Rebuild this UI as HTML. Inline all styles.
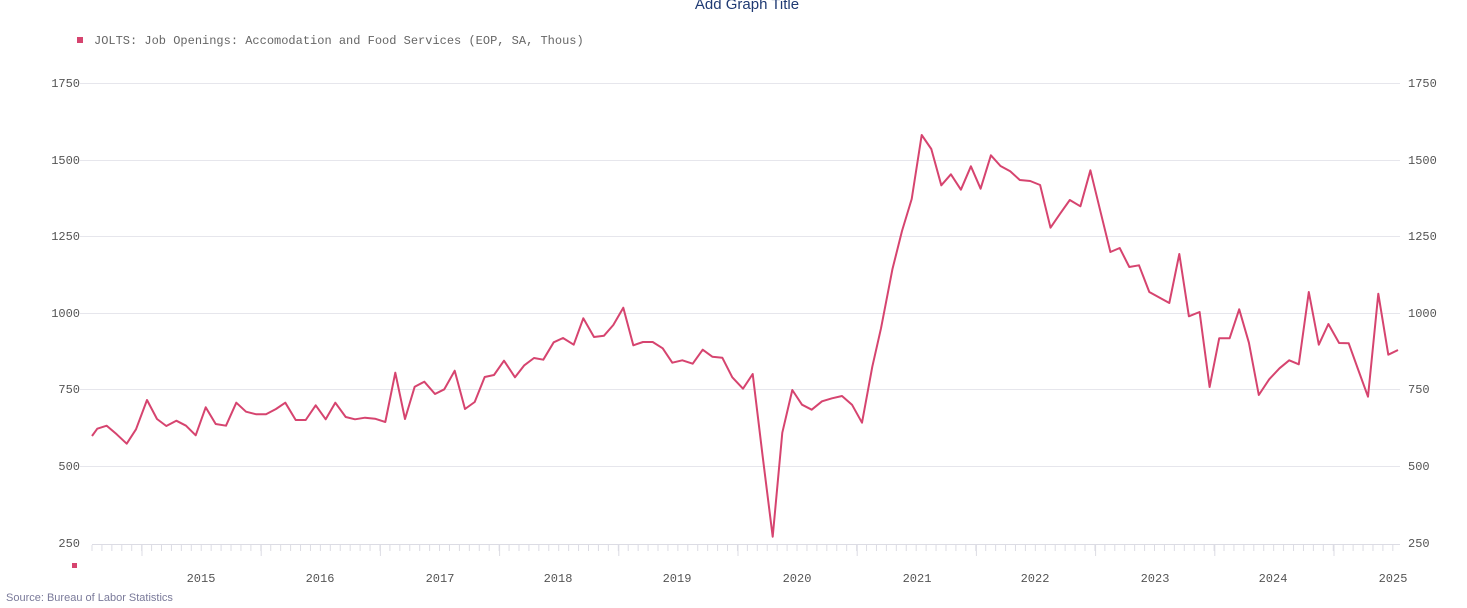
<!DOCTYPE html>
<html><head><meta charset="utf-8"><style>
html,body{margin:0;padding:0;background:#fff;}
svg{display:block;}
</style></head><body>
<svg width="1467" height="608" xmlns="http://www.w3.org/2000/svg">
<defs>
<pattern id="minor" patternUnits="userSpaceOnUse" x="91.5" y="545" width="9.93" height="6"><rect x="0" y="0" width="1" height="6" fill="#dcdce4"/></pattern>
<pattern id="major" patternUnits="userSpaceOnUse" x="141.5" y="545" width="119.2" height="11"><rect x="0" y="0" width="1" height="11" fill="#dcdce4"/></pattern>
</defs>
<text x="747" y="9" text-anchor="middle" font-family="Liberation Sans, sans-serif" font-size="15" fill="#1f3a73">Add Graph Title</text>
<rect x="77" y="37" width="6" height="6" fill="#d6446f"/>
<text x="94" y="44" font-family="Liberation Mono, monospace" font-size="12" fill="#666">JOLTS: Job Openings: Accomodation and Food Services (EOP, SA, Thous)</text>
<g stroke="#e6e6ec" stroke-width="1">
<line x1="80" y1="83.5" x2="1400" y2="83.5"/>
<line x1="80" y1="160.5" x2="1400" y2="160.5"/>
<line x1="80" y1="236.5" x2="1400" y2="236.5"/>
<line x1="80" y1="313.5" x2="1400" y2="313.5"/>
<line x1="80" y1="389.5" x2="1400" y2="389.5"/>
<line x1="80" y1="466.5" x2="1400" y2="466.5"/>
</g>
<g font-family="Liberation Mono, monospace" font-size="12" fill="#555" text-anchor="end">
<text x="80" y="87">1750</text><text x="80" y="164">1500</text><text x="80" y="240">1250</text>
<text x="80" y="317">1000</text><text x="80" y="393">750</text><text x="80" y="470">500</text><text x="80" y="547">250</text>
</g>
<g font-family="Liberation Mono, monospace" font-size="12" fill="#555">
<text x="1408" y="87">1750</text><text x="1408" y="164">1500</text><text x="1408" y="240">1250</text>
<text x="1408" y="317">1000</text><text x="1408" y="393">750</text><text x="1408" y="470">500</text><text x="1408" y="547">250</text>
</g>
<line x1="92" y1="544.5" x2="1400" y2="544.5" stroke="#dcdce4"/>
<rect x="91.5" y="545" width="1309" height="6" fill="url(#minor)"/>
<rect x="141.5" y="545" width="1259" height="11" fill="url(#major)"/>
<g font-family="Liberation Mono, monospace" font-size="12" fill="#555" text-anchor="middle">
<text x="201" y="582">2015</text><text x="320" y="582">2016</text><text x="440" y="582">2017</text>
<text x="558" y="582">2018</text><text x="677" y="582">2019</text><text x="797" y="582">2020</text>
<text x="917" y="582">2021</text><text x="1035" y="582">2022</text><text x="1155" y="582">2023</text>
<text x="1273" y="582">2024</text><text x="1393" y="582">2025</text>
</g>
<rect x="72" y="563" width="5" height="5" fill="#d6446f"/>
<text x="6" y="601" font-family="Liberation Sans, sans-serif" font-size="11" fill="#7a7a9a">Source: Bureau of Labor Statistics</text>
<polyline fill="none" stroke="#d6446f" stroke-width="2" stroke-linejoin="round" points="
92,436 97.3,428.7 106.7,425.7 116.7,434.3 126.7,443.7 136,429.3 147,400 157,419 166.3,426 176.3,420.7 186,425.7 195.7,435.3 205.7,407.3 215.7,424 226,425.7 236.3,402.7 246,411.7 256.3,414.3 266,414.3 276,409 285.3,402.7 295.7,420 305.7,420 315.7,405.3 325.7,419.3 335.3,402.7 345.7,417 355,419.3 365,417.7 375,418.7 385.3,422 395.3,372.7 405,419 414.7,386.7 424.3,381.7 435,394 444.3,389.3 454.7,370.7 465,409 474.7,402 484.7,377 494,375 504,360.7 515,377.3 524.3,365.3 534,358 543.3,359.7 553.7,342.3 563,338 573.7,344.7 583.3,318.3 594,337 604,335.7 613.3,325 623.3,307.7 633.3,345.3 643,342 652.7,342 662.7,348.3 672.3,362.7 682.3,360.3 692.7,363.7 702.7,349.7 712.3,356.7 722.3,357.7 732.3,377.3 743,388.7 752.7,374 762.5,455 772.7,536.7 782.3,432.7 792.3,390 802,404.7 811.7,409.7 822,401.3 832,398.3 842,396 852,404.7 862,422.7 872.3,366.7 881,328.3 892.4,269.3 902,231 911.7,199 921.7,135 931.3,149 941.3,185.3 950.9,174.3 960.9,189.7 970.9,166.3 980.6,188.7 990.9,155.3 1000.5,166 1010.2,171.3 1019.8,180 1030.2,181 1040.1,185 1050.5,227.7 1060.1,213.7 1069.8,200 1080.4,206.3 1090.4,170.3 1100.4,211.3 1110.4,252 1119.7,248 1129.3,267 1139,265.3 1149.3,292 1159.3,297.5 1169.3,303 1179.3,254 1188.9,316.3 1199.6,312 1209.6,387 1219.2,338.3 1229.6,338.3 1239.2,309.3 1248.9,342.7 1258.8,395 1269.2,379.3 1279.5,368.3 1289.2,360.3 1298.8,364.3 1308.8,292 1318.8,344.7 1328.4,324 1339.1,343 1348.7,343.3 1358.3,370 1368,396.7 1378.3,293.7 1388.3,354.7 1398,350"/>
</svg>
</body></html>
